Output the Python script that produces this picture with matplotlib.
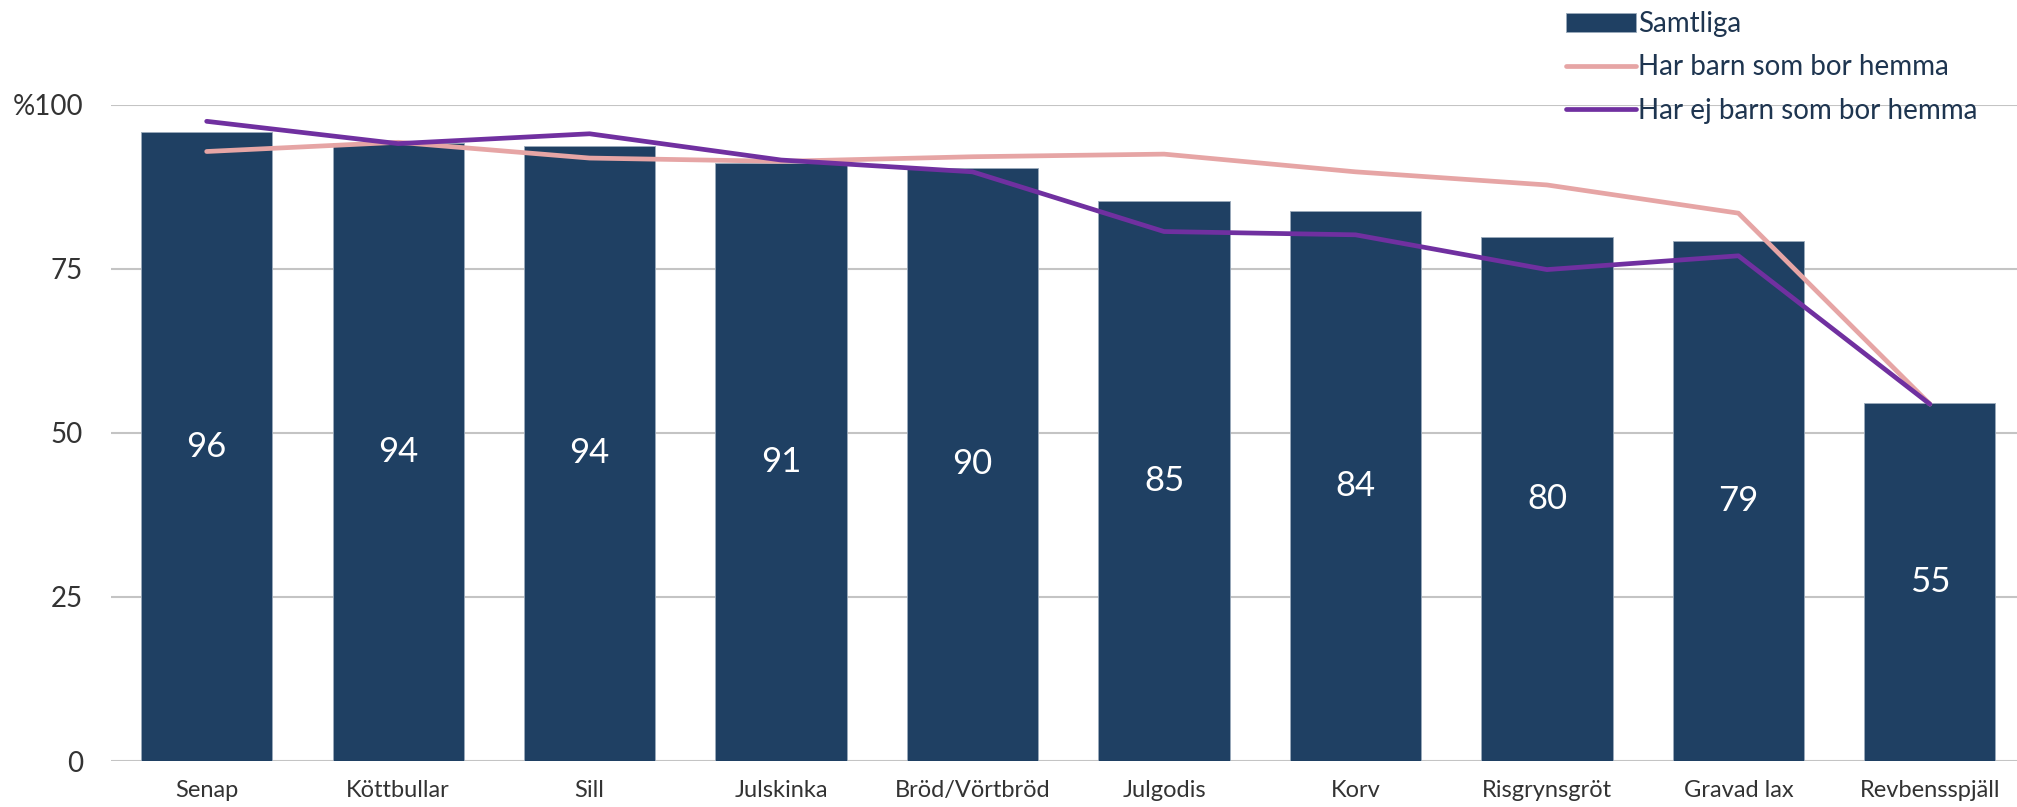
import matplotlib.pyplot as plt
import numpy as np

plt.rcParams["font.family"] = ["Lato", "DejaVu Sans"]

# - Data

categories = ["Senap", "Köttbullar", "Sill", "Julskinka", "Bröd/Vörtbröd",
              "Julgodis", "Korv", "Risgrynsgröt", "Gravad lax", "Revbensspjäll"]
samtliga = [95.8, 94.2, 93.8, 91.1, 90.4, 85.4, 83.8, 79.8, 79.2, 54.6]
har_barn = [92.9, 94.3, 91.9, 91.4, 92.1, 92.5, 89.8, 87.8, 83.5, 54.4]
har_ej_barn = [97.5, 94.1, 95.6, 91.6, 89.8, 80.7, 80.2, 74.9, 77.0, 54.4]
y_ticks = [0, 25, 50, 75, 100]
y_tick_labels = ["0", "25", "50", "75", "%100"]

bar_color = "#1F4063"
pink = "#E6A5A5"
purple = "#7030A0"
text_color = "#333333"

# - Create figure

fig = plt.figure(figsize=(20.17, 8.07), dpi=100)
ax = fig.add_axes([0.055, 0.057, 0.945, 0.813])

x = np.arange(len(categories))

bars = ax.bar(x, samtliga, width=0.685, color=bar_color, edgecolor="#9AAABB",
              linewidth=0.6, zorder=2, label="Samtliga")
(line_barn,) = ax.plot(x, har_barn, color=pink, linewidth=3.4, solid_capstyle="round",
                       zorder=3, clip_on=False, label="Har barn som bor hemma")
(line_ej,) = ax.plot(x, har_ej_barn, color=purple, linewidth=3.4, solid_capstyle="round",
                     zorder=4, clip_on=False, label="Har ej barn som bor hemma")

# - Bar labels

for xi, v in zip(x, samtliga):
    ax.text(xi, v / 2, f"{round(v)}", ha="center", va="center",
            color="white", fontsize=25, zorder=5)

# - Axes styling

ax.set_xlim(-0.5, 9.455)
ax.set_ylim(0, 100)
ax.set_yticks(y_ticks)
ax.set_yticklabels(y_tick_labels)
ax.set_xticks(x)
ax.set_xticklabels(categories)
ax.yaxis.grid(True, color="#C4C4C4", linewidth=1.5, zorder=0)
ax.set_axisbelow(True)
for s in ax.spines.values():
    s.set_visible(False)
ax.tick_params(axis="y", length=0, pad=20, labelsize=20, labelcolor=text_color)
ax.tick_params(axis="x", length=0, pad=14, labelsize=17, labelcolor=text_color)

# - Legend

fig.legend(handles=[bars, line_barn, line_ej], loc="upper left",
           bbox_to_anchor=(0.771, 1.0), frameon=False,
           fontsize=20, labelcolor="#1E3550", handlelength=2.5,
           handletextpad=0.1, labelspacing=0.62, borderaxespad=0)

plt.savefig("out.png", dpi=100)
